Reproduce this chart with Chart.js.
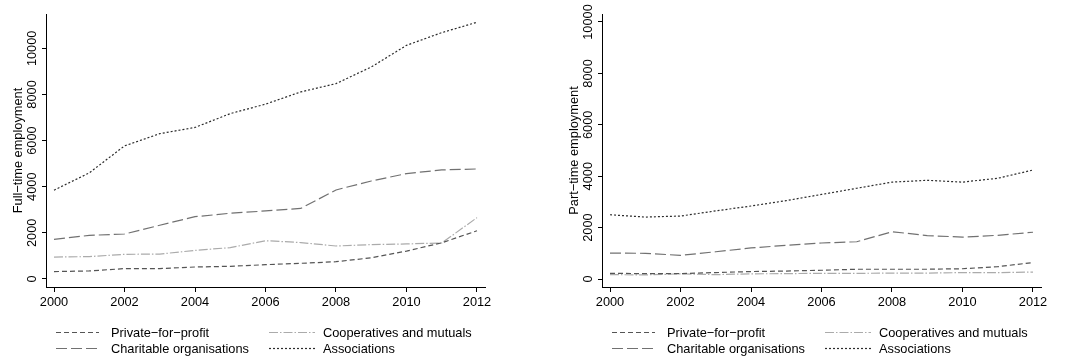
<!DOCTYPE html>
<html>
<head>
<meta charset="utf-8">
<script src="https://cdn.jsdelivr.net/npm/chart.js@4.4.0/dist/chart.umd.min.js"></script>
<style>
  html, body { margin: 0; padding: 0; background: #fff; }
  #wrap { position: relative; width: 1069px; height: 361px; }
  #left { position: absolute; left: 0; top: 0; }
  #right { position: absolute; left: 556px; top: 0; }
</style>
</head>
<body>
<div id="wrap">
  <canvas id="left" width="556" height="361"></canvas>
  <canvas id="right" width="513" height="361"></canvas>
</div>
<script>
// years and tick labels
const years = [2000, 2001, 2002, 2003, 2004, 2005, 2006, 2007, 2008, 2009, 2010, 2011, 2012];
const xTicks = [2000, 2002, 2004, 2006, 2008, 2010, 2012];
const yTicks = [0, 2000, 4000, 6000, 8000, 10000];

const seriesNames = ['Private\u2212for\u2212profit', 'Cooperatives and mutuals', 'Charitable organisations', 'Associations'];

// full-time employment
const ftPrivate = [320, 350, 450, 450, 520, 550, 620, 680, 750, 920, 1210, 1570, 2090];
const ftCoop = [950, 970, 1070, 1080, 1240, 1360, 1660, 1580, 1430, 1490, 1520, 1560, 2660];
const ftCharit = [1720, 1890, 1950, 2330, 2700, 2850, 2950, 3060, 3860, 4250, 4570, 4730, 4770];
const ftAssoc = [3850, 4600, 5770, 6300, 6570, 7170, 7580, 8110, 8470, 9190, 10130, 10680, 11130];

// part-time employment
const ptPrivate = [220, 210, 210, 250, 290, 310, 340, 380, 380, 380, 400, 480, 640];
const ptCoop = [170, 160, 200, 170, 200, 210, 220, 220, 230, 230, 250, 250, 270];
const ptCharit = [1010, 1000, 920, 1060, 1210, 1310, 1400, 1450, 1840, 1690, 1630, 1700, 1820];
const ptAssoc = [2500, 2410, 2450, 2650, 2840, 3050, 3290, 3530, 3770, 3840, 3770, 3920, 4240];

const FONT = '"Liberation Sans", Arial, Helvetica, sans-serif';
const FSIZE = 12.8;
const styles = [
    { color: '#555555', dash: [5, 3] },
    { color: '#ababab', dash: [9, 2, 1.5, 2] },
    { color: '#717171', dash: [11, 4] },
    { color: '#2c2c2c', dash: [2, 2] }
];

function makeDatasets(values) {
    return values.map((arr, i) => ({
        label: seriesNames[i],
        data: arr.map((v, j) => ({ x: years[j], y: v })),
        borderColor: styles[i].color,
        borderDash: styles[i].dash,
        borderWidth: 1.2,
        pointRadius: 0,
        fill: false,
        tension: 0
    }));
}

// legend in two columns under the plot, Stata style
const stataLegend = {
    id: 'stataLegend',
    afterDraw(chart) {
        const ctx = chart.ctx;
        const spots = [
            { x: 56, w: 43, tx: 111, y: 332 },
            { x: 269, w: 46, tx: 323, y: 332 },
            { x: 56, w: 43, tx: 111, y: 348 },
            { x: 269, w: 46, tx: 323, y: 348 }
        ];
        chart.data.datasets.forEach((ds, i) => {
            const s = spots[i];
            ctx.save();
            ctx.strokeStyle = ds.borderColor;
            ctx.lineWidth = 1.2;
            ctx.setLineDash(ds.borderDash);
            ctx.beginPath();
            ctx.moveTo(s.x, s.y + 0.5);
            ctx.lineTo(s.x + s.w, s.y + 0.5);
            ctx.stroke();
            ctx.setLineDash([]);
            ctx.fillStyle = '#000';
            ctx.font = FSIZE + 'px ' + FONT;
            ctx.textBaseline = 'middle';
            ctx.textAlign = 'left';
            ctx.fillText(ds.label, s.tx, s.y + 1);
            ctx.restore();
        });
    }
};

function makeChart(id, values, yTitle, yMin, yMax, canvasWidth) {
    const ctx = document.getElementById(id).getContext('2d');
    return new Chart(ctx, {
        type: 'line',
        data: { datasets: makeDatasets(values) },
        options: {
            responsive: false,
            animation: false,
            devicePixelRatio: 1,
            layout: { padding: { top: 14, right: canvasWidth - 485, left: 0, bottom: 0 } },
            plugins: { legend: { display: false }, tooltip: { enabled: false } },
            scales: {
                x: {
                    type: 'linear',
                    min: 1999.773,
                    max: 2012.227,
                    afterBuildTicks: scale => { scale.ticks = xTicks.map(v => ({ value: v })); },
                    afterFit: scale => { scale.height = 74; },
                    grid: { drawOnChartArea: false, drawTicks: true, tickLength: 5, color: '#000' },
                    border: { display: true, color: '#000', width: 1 },
                    ticks: {
                        color: '#000',
                        font: { family: FONT, size: FSIZE },
                        padding: 3,
                        maxRotation: 0,
                        callback: v => String(v)
                    }
                },
                y: {
                    type: 'linear',
                    min: yMin,
                    max: yMax,
                    afterBuildTicks: scale => { scale.ticks = yTicks.map(v => ({ value: v })); },
                    afterFit: scale => { scale.width = 46; },
                    grid: { drawOnChartArea: false, drawTicks: true, tickLength: 4, color: '#000' },
                    border: { display: true, color: '#000', width: 1 },
                    ticks: {
                        color: '#000',
                        font: { family: FONT, size: FSIZE },
                        minRotation: 90,
                        maxRotation: 90,
                        crossAlign: 'center',
                        padding: -7.8,
                        callback: v => String(v)
                    },
                    title: {
                        display: true,
                        text: yTitle,
                        color: '#000',
                        font: { family: FONT, size: FSIZE },
                        padding: { top: 10.5, bottom: 0 }
                    }
                }
            }
        },
        plugins: [stataLegend]
    });
}

makeChart('left', [ftPrivate, ftCoop, ftCharit, ftAssoc], 'Full\u2212time employment', -347, 11488, 556);
makeChart('right', [ptPrivate, ptCoop, ptCharit, ptAssoc], 'Part\u2212time employment', -311, 10311, 513);
</script>
</body>
</html>
